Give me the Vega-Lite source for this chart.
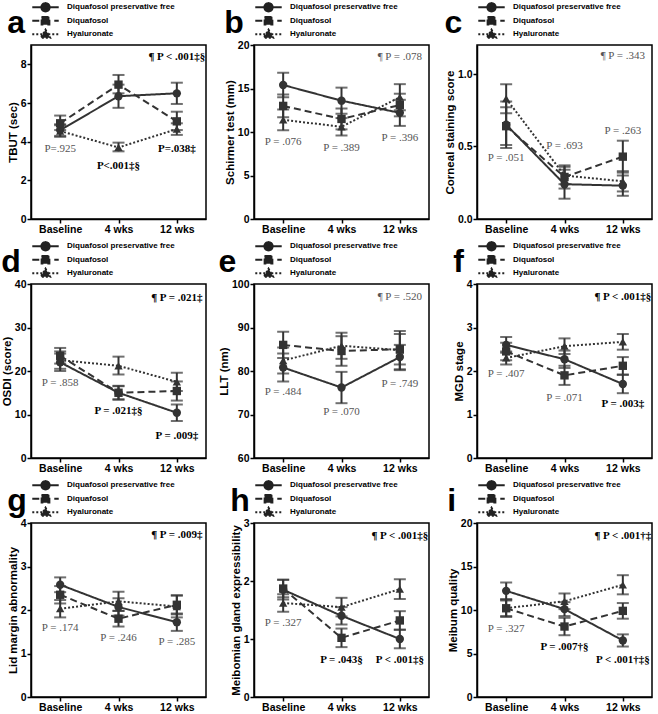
{
"$schema": "https://vega.github.io/schema/vega-lite/v6.json",
"padding": {"left": 0, "top": 0, "right": 0, "bottom": 0},
"columns": 3,
"bounds": "flush",
"spacing": {"row": 65, "column": 48},
"resolve": {"scale": {"x": "independent", "y": "independent", "strokeDash": "independent"}, "legend": {"strokeDash": "independent"}},
"config": {
  "view": {"stroke": "#000", "strokeWidth": 1.5},
  "axis": {"labelFont": "Liberation Sans", "labelFontWeight": "bold", "labelFontSize": 10.5, "labelColor": "#000", "titleFont": "Liberation Sans", "titleFontWeight": "bold", "titleFontSize": 11.5, "titleColor": "#000", "domainColor": "#000", "domainWidth": 1.5, "tickColor": "#000", "tickWidth": 1.5, "tickSize": 4, "labelPadding": 1, "titlePadding": 2, "grid": false},
  "legend": {"orient": "top", "direction": "vertical", "symbolSize": 700, "symbolStrokeWidth": 1.8, "symbolStrokeColor": "#222", "clipHeight": 12.5, "rowPadding": 0.5, "labelFont": "Liberation Sans", "labelFontWeight": "bold", "labelFontSize": 8, "labelColor": "#000", "labelOffset": 7, "offset": 4, "padding": 0},
  "title": {"font": "Liberation Sans", "fontSize": 32, "fontWeight": "bold", "anchor": "start", "frame": "bounds", "offset": 0, "baseline": "alphabetic", "dy": 43, "dx": 0, "color": "#000"}
},
"datasets": {
"pts": [
{"panel":"a","time":"Baseline","wk":0,"grp":"Diquafosol preservative free","m":4.6,"lo":4.3,"hi":4.9},
{"panel":"a","time":"4 wks","wk":4,"grp":"Diquafosol preservative free","m":6.35,"lo":5.75,"hi":6.95},
{"panel":"a","time":"12 wks","wk":12,"grp":"Diquafosol preservative free","m":6.5,"lo":5.95,"hi":7.05},
{"panel":"a","time":"Baseline","wk":0,"grp":"Diquafosol","m":4.95,"lo":4.6,"hi":5.35},
{"panel":"a","time":"4 wks","wk":4,"grp":"Diquafosol","m":6.95,"lo":6.5,"hi":7.45},
{"panel":"a","time":"12 wks","wk":12,"grp":"Diquafosol","m":5.05,"lo":4.6,"hi":5.55},
{"panel":"a","time":"Baseline","wk":0,"grp":"Hyaluronate","m":4.55,"lo":4.25,"hi":4.85},
{"panel":"a","time":"4 wks","wk":4,"grp":"Hyaluronate","m":3.7,"lo":3.5,"hi":3.95},
{"panel":"a","time":"12 wks","wk":12,"grp":"Hyaluronate","m":4.65,"lo":4.35,"hi":4.95},
{"panel":"b","time":"Baseline","wk":0,"grp":"Diquafosol preservative free","m":15.4,"lo":14.0,"hi":16.8},
{"panel":"b","time":"4 wks","wk":4,"grp":"Diquafosol preservative free","m":13.6,"lo":12.1,"hi":15.1},
{"panel":"b","time":"12 wks","wk":12,"grp":"Diquafosol preservative free","m":12.2,"lo":10.7,"hi":13.7},
{"panel":"b","time":"Baseline","wk":0,"grp":"Diquafosol","m":13.0,"lo":11.7,"hi":14.3},
{"panel":"b","time":"4 wks","wk":4,"grp":"Diquafosol","m":11.5,"lo":10.3,"hi":12.7},
{"panel":"b","time":"12 wks","wk":12,"grp":"Diquafosol","m":13.1,"lo":11.8,"hi":14.4},
{"panel":"b","time":"Baseline","wk":0,"grp":"Hyaluronate","m":11.4,"lo":10.2,"hi":12.6},
{"panel":"b","time":"4 wks","wk":4,"grp":"Hyaluronate","m":10.6,"lo":9.6,"hi":11.6},
{"panel":"b","time":"12 wks","wk":12,"grp":"Hyaluronate","m":14.0,"lo":12.5,"hi":15.5},
{"panel":"c","time":"Baseline","wk":0,"grp":"Diquafosol preservative free","m":0.65,"lo":0.49,"hi":0.81},
{"panel":"c","time":"4 wks","wk":4,"grp":"Diquafosol preservative free","m":0.24,"lo":0.14,"hi":0.34},
{"panel":"c","time":"12 wks","wk":12,"grp":"Diquafosol preservative free","m":0.23,"lo":0.16,"hi":0.30},
{"panel":"c","time":"Baseline","wk":0,"grp":"Diquafosol","m":0.64,"lo":0.51,"hi":0.77},
{"panel":"c","time":"4 wks","wk":4,"grp":"Diquafosol","m":0.29,"lo":0.21,"hi":0.37},
{"panel":"c","time":"12 wks","wk":12,"grp":"Diquafosol","m":0.43,"lo":0.32,"hi":0.54},
{"panel":"c","time":"Baseline","wk":0,"grp":"Hyaluronate","m":0.83,"lo":0.73,"hi":0.93},
{"panel":"c","time":"4 wks","wk":4,"grp":"Hyaluronate","m":0.30,"lo":0.24,"hi":0.36},
{"panel":"c","time":"12 wks","wk":12,"grp":"Hyaluronate","m":0.26,"lo":0.19,"hi":0.33},
{"panel":"d","time":"Baseline","wk":0,"grp":"Diquafosol preservative free","m":22.0,"lo":20.0,"hi":24.0},
{"panel":"d","time":"4 wks","wk":4,"grp":"Diquafosol preservative free","m":15.0,"lo":13.5,"hi":16.5},
{"panel":"d","time":"12 wks","wk":12,"grp":"Diquafosol preservative free","m":10.4,"lo":8.5,"hi":12.3},
{"panel":"d","time":"Baseline","wk":0,"grp":"Diquafosol","m":23.5,"lo":21.7,"hi":25.3},
{"panel":"d","time":"4 wks","wk":4,"grp":"Diquafosol","m":15.0,"lo":13.4,"hi":16.6},
{"panel":"d","time":"12 wks","wk":12,"grp":"Diquafosol","m":15.4,"lo":13.2,"hi":17.6},
{"panel":"d","time":"Baseline","wk":0,"grp":"Hyaluronate","m":22.5,"lo":20.5,"hi":24.5},
{"panel":"d","time":"4 wks","wk":4,"grp":"Hyaluronate","m":21.2,"lo":19.2,"hi":23.3},
{"panel":"d","time":"12 wks","wk":12,"grp":"Hyaluronate","m":17.5,"lo":15.4,"hi":19.6},
{"panel":"e","time":"Baseline","wk":0,"grp":"Diquafosol preservative free","m":80.8,"lo":77.6,"hi":84.0},
{"panel":"e","time":"4 wks","wk":4,"grp":"Diquafosol preservative free","m":76.2,"lo":72.6,"hi":79.8},
{"panel":"e","time":"12 wks","wk":12,"grp":"Diquafosol preservative free","m":83.2,"lo":80.4,"hi":86.0},
{"panel":"e","time":"Baseline","wk":0,"grp":"Diquafosol","m":86.0,"lo":83.0,"hi":89.0},
{"panel":"e","time":"4 wks","wk":4,"grp":"Diquafosol","m":84.6,"lo":81.2,"hi":88.0},
{"panel":"e","time":"12 wks","wk":12,"grp":"Diquafosol","m":85.0,"lo":81.5,"hi":88.5},
{"panel":"e","time":"Baseline","wk":0,"grp":"Hyaluronate","m":82.4,"lo":79.4,"hi":85.4},
{"panel":"e","time":"4 wks","wk":4,"grp":"Hyaluronate","m":85.8,"lo":82.8,"hi":88.8},
{"panel":"e","time":"12 wks","wk":12,"grp":"Hyaluronate","m":84.8,"lo":80.2,"hi":89.2},
{"panel":"f","time":"Baseline","wk":0,"grp":"Diquafosol preservative free","m":2.6,"lo":2.42,"hi":2.78},
{"panel":"f","time":"4 wks","wk":4,"grp":"Diquafosol preservative free","m":2.27,"lo":2.07,"hi":2.47},
{"panel":"f","time":"12 wks","wk":12,"grp":"Diquafosol preservative free","m":1.7,"lo":1.49,"hi":1.91},
{"panel":"f","time":"Baseline","wk":0,"grp":"Diquafosol","m":2.45,"lo":2.25,"hi":2.65},
{"panel":"f","time":"4 wks","wk":4,"grp":"Diquafosol","m":1.9,"lo":1.68,"hi":2.12},
{"panel":"f","time":"12 wks","wk":12,"grp":"Diquafosol","m":2.12,"lo":1.92,"hi":2.32},
{"panel":"f","time":"Baseline","wk":0,"grp":"Hyaluronate","m":2.3,"lo":2.15,"hi":2.45},
{"panel":"f","time":"4 wks","wk":4,"grp":"Hyaluronate","m":2.57,"lo":2.39,"hi":2.75},
{"panel":"f","time":"12 wks","wk":12,"grp":"Hyaluronate","m":2.67,"lo":2.49,"hi":2.85},
{"panel":"g","time":"Baseline","wk":0,"grp":"Diquafosol preservative free","m":2.58,"lo":2.41,"hi":2.75},
{"panel":"g","time":"4 wks","wk":4,"grp":"Diquafosol preservative free","m":2.07,"lo":1.87,"hi":2.27},
{"panel":"g","time":"12 wks","wk":12,"grp":"Diquafosol preservative free","m":1.72,"lo":1.52,"hi":1.92},
{"panel":"g","time":"Baseline","wk":0,"grp":"Diquafosol","m":2.35,"lo":2.15,"hi":2.55},
{"panel":"g","time":"4 wks","wk":4,"grp":"Diquafosol","m":1.8,"lo":1.62,"hi":1.98},
{"panel":"g","time":"12 wks","wk":12,"grp":"Diquafosol","m":2.12,"lo":1.9,"hi":2.34},
{"panel":"g","time":"Baseline","wk":0,"grp":"Hyaluronate","m":2.03,"lo":1.83,"hi":2.23},
{"panel":"g","time":"4 wks","wk":4,"grp":"Hyaluronate","m":2.2,"lo":1.98,"hi":2.42},
{"panel":"g","time":"12 wks","wk":12,"grp":"Hyaluronate","m":2.08,"lo":1.83,"hi":2.33},
{"panel":"h","time":"Baseline","wk":0,"grp":"Diquafosol preservative free","m":1.85,"lo":1.68,"hi":2.02},
{"panel":"h","time":"4 wks","wk":4,"grp":"Diquafosol preservative free","m":1.4,"lo":1.25,"hi":1.55},
{"panel":"h","time":"12 wks","wk":12,"grp":"Diquafosol preservative free","m":1.0,"lo":0.84,"hi":1.16},
{"panel":"h","time":"Baseline","wk":0,"grp":"Diquafosol","m":1.87,"lo":1.72,"hi":2.02},
{"panel":"h","time":"4 wks","wk":4,"grp":"Diquafosol","m":1.02,"lo":0.86,"hi":1.18},
{"panel":"h","time":"12 wks","wk":12,"grp":"Diquafosol","m":1.32,"lo":1.16,"hi":1.48},
{"panel":"h","time":"Baseline","wk":0,"grp":"Hyaluronate","m":1.62,"lo":1.47,"hi":1.77},
{"panel":"h","time":"4 wks","wk":4,"grp":"Hyaluronate","m":1.55,"lo":1.39,"hi":1.71},
{"panel":"h","time":"12 wks","wk":12,"grp":"Hyaluronate","m":1.86,"lo":1.69,"hi":2.03},
{"panel":"i","time":"Baseline","wk":0,"grp":"Diquafosol preservative free","m":12.2,"lo":11.25,"hi":13.15},
{"panel":"i","time":"4 wks","wk":4,"grp":"Diquafosol preservative free","m":10.1,"lo":9.3,"hi":10.9},
{"panel":"i","time":"12 wks","wk":12,"grp":"Diquafosol preservative free","m":6.5,"lo":5.8,"hi":7.2},
{"panel":"i","time":"Baseline","wk":0,"grp":"Diquafosol","m":10.2,"lo":9.2,"hi":11.2},
{"panel":"i","time":"4 wks","wk":4,"grp":"Diquafosol","m":8.1,"lo":7.1,"hi":9.1},
{"panel":"i","time":"12 wks","wk":12,"grp":"Diquafosol","m":9.9,"lo":9.0,"hi":10.8},
{"panel":"i","time":"Baseline","wk":0,"grp":"Hyaluronate","m":10.2,"lo":9.3,"hi":11.1},
{"panel":"i","time":"4 wks","wk":4,"grp":"Hyaluronate","m":11.0,"lo":10.1,"hi":11.9},
{"panel":"i","time":"12 wks","wk":12,"grp":"Hyaluronate","m":12.9,"lo":11.8,"hi":14.0}
],
"ann": [
{"panel":"a","time":"12 wks","m":8.4,"label":"¶ P < .001‡§","sig":true},
{"panel":"a","time":"Baseline","m":3.6,"label":"P=.925","sig":false},
{"panel":"a","time":"4 wks","m":2.75,"label":"P<.001‡§","sig":true},
{"panel":"a","time":"12 wks","m":3.6,"label":"P=.038‡","sig":true},
{"panel":"b","time":"12 wks","m":18.6,"label":"¶ P = .078","sig":false},
{"panel":"b","time":"Baseline","m":8.9,"label":"P = .076","sig":false},
{"panel":"b","time":"4 wks","m":8.2,"label":"P = .389","sig":false},
{"panel":"b","time":"12 wks","m":9.3,"label":"P = .396","sig":false},
{"panel":"c","time":"12 wks","m":1.125,"label":"¶ P = .343","sig":false},
{"panel":"c","time":"Baseline","m":0.42,"label":"P = .051","sig":false},
{"panel":"c","time":"4 wks","m":0.505,"label":"P = .693","sig":false},
{"panel":"c","time":"12 wks","m":0.61,"label":"P = .263","sig":false},
{"panel":"d","time":"12 wks","m":36.8,"label":"¶ P = .021‡","sig":true},
{"panel":"d","time":"Baseline","m":17.2,"label":"P = .858","sig":false},
{"panel":"d","time":"4 wks","m":10.7,"label":"P = .021‡§","sig":true},
{"panel":"d","time":"12 wks","m":5.1,"label":"P = .009‡","sig":true},
{"panel":"e","time":"12 wks","m":97.1,"label":"¶ P = .520","sig":false},
{"panel":"e","time":"Baseline","m":75.2,"label":"P = .484","sig":false},
{"panel":"e","time":"4 wks","m":70.5,"label":"P = .070","sig":false},
{"panel":"e","time":"12 wks","m":77.0,"label":"P = .749","sig":false},
{"panel":"f","time":"12 wks","m":3.7,"label":"¶ P < .001‡§","sig":true},
{"panel":"f","time":"Baseline","m":1.92,"label":"P = .407","sig":false},
{"panel":"f","time":"4 wks","m":1.37,"label":"P = .071","sig":false},
{"panel":"f","time":"12 wks","m":1.23,"label":"P = .003‡","sig":true},
{"panel":"g","time":"12 wks","m":3.72,"label":"¶ P = .009‡","sig":true},
{"panel":"g","time":"Baseline","m":1.58,"label":"P = .174","sig":false},
{"panel":"g","time":"4 wks","m":1.36,"label":"P = .246","sig":false},
{"panel":"g","time":"12 wks","m":1.27,"label":"P = .285","sig":false},
{"panel":"h","time":"12 wks","m":2.77,"label":"¶ P < .001‡§","sig":true},
{"panel":"h","time":"Baseline","m":1.27,"label":"P = .327","sig":false},
{"panel":"h","time":"4 wks","m":0.64,"label":"P = .043§","sig":true},
{"panel":"h","time":"12 wks","m":0.64,"label":"P < .001‡§","sig":true},
{"panel":"i","time":"12 wks","m":18.5,"label":"¶ P < .001†‡","sig":true},
{"panel":"i","time":"Baseline","m":7.8,"label":"P = .327","sig":false},
{"panel":"i","time":"4 wks","m":5.8,"label":"P = .007†§","sig":true},
{"panel":"i","time":"12 wks","m":4.3,"label":"P < .001†‡§","sig":true}
]
},
"concat": [
{"title":"a","width":175,"height":174,
 "encoding":{"x":{"field":"time","type":"ordinal","title":null,"scale":{"type":"point","domain":["Baseline","4 wks","12 wks"],"padding":0.5},"axis":{"labelAngle":0}},
  "y":{"field":"m","type":"quantitative","title":"TBUT (sec)","scale":{"domain":[0,9],"nice":false,"zero":false},"axis":{"values":[0,2,4,6,8]}}},
 "layer":[
  {"data":{"name":"pts"},"transform":[{"filter":"datum.panel==='a'"}],"mark":{"type":"line","color":"#333","strokeWidth":2},
   "encoding":{"order":{"field":"wk","type":"quantitative"},"strokeDash":{"field":"grp","type":"nominal","scale":{"domain":["Diquafosol preservative free","Diquafosol","Hyaluronate"],"range":[[1,0],[7,4],[2,2]]},
    "legend":{"title":null,"encode":{"symbols":{"update":{"shape":{"signal":"datum.value==='Diquafosol' ? 'M-1,0L1,0M-0.3,-0.3L0.3,-0.3L0.3,0.3L-0.3,0.3Z' : datum.value==='Hyaluronate' ? 'M-1,0L1,0M0,-0.36L0.36,0.27L-0.36,0.27Z' : 'M-1,0L1,0M-0.32,0A0.32,0.32 0 1,0 0.32,0A0.32,0.32 0 1,0 -0.32,0Z'"},"fill":{"value":"#222"},"stroke":{"value":"#222"},"strokeWidth":{"value":1.8},"opacity":{"value":1}}}}}}}},
  {"data":{"name":"pts"},"transform":[{"filter":"datum.panel==='a'"}],"mark":{"type":"errorbar","ticks":true,"size":12,"thickness":2,"color":"#333"},
   "encoding":{"y":{"field":"lo","type":"quantitative","title":"TBUT (sec)","scale":{"domain":[0,9],"nice":false,"zero":false}},"y2":{"field":"hi"}}},
  {"data":{"name":"pts"},"transform":[{"filter":"datum.panel==='a' && datum.grp==='Diquafosol preservative free'"}],"mark":{"type":"point","shape":"circle","filled":true,"size":70,"color":"#333","opacity":1}},
  {"data":{"name":"pts"},"transform":[{"filter":"datum.panel==='a' && datum.grp==='Diquafosol'"}],"mark":{"type":"point","shape":"square","filled":true,"size":70,"color":"#333","opacity":1}},
  {"data":{"name":"pts"},"transform":[{"filter":"datum.panel==='a' && datum.grp==='Hyaluronate'"}],"mark":{"type":"point","shape":"triangle-up","filled":true,"size":70,"color":"#333","opacity":1}},
  {"data":{"name":"ann"},"transform":[{"filter":"datum.panel==='a' && datum.sig"}],"mark":{"type":"text","font":"Liberation Serif","fontSize":11,"fontWeight":"bold","color":"#000"},"encoding":{"text":{"field":"label"}}},
  {"data":{"name":"ann"},"transform":[{"filter":"datum.panel==='a' && !datum.sig"}],"mark":{"type":"text","font":"Liberation Serif","fontSize":11,"color":"#555"},"encoding":{"text":{"field":"label"}}}
 ]},
{"title":"b","width":175,"height":174,
 "encoding":{"x":{"field":"time","type":"ordinal","title":null,"scale":{"type":"point","domain":["Baseline","4 wks","12 wks"],"padding":0.5},"axis":{"labelAngle":0}},
  "y":{"field":"m","type":"quantitative","title":"Schirmer test (mm)","scale":{"domain":[0,20],"nice":false,"zero":false},"axis":{"values":[0,5,10,15,20]}}},
 "layer":[
  {"data":{"name":"pts"},"transform":[{"filter":"datum.panel==='b'"}],"mark":{"type":"line","color":"#333","strokeWidth":2},
   "encoding":{"order":{"field":"wk","type":"quantitative"},"strokeDash":{"field":"grp","type":"nominal","scale":{"domain":["Diquafosol preservative free","Diquafosol","Hyaluronate"],"range":[[1,0],[7,4],[2,2]]},
    "legend":{"title":null,"encode":{"symbols":{"update":{"shape":{"signal":"datum.value==='Diquafosol' ? 'M-1,0L1,0M-0.3,-0.3L0.3,-0.3L0.3,0.3L-0.3,0.3Z' : datum.value==='Hyaluronate' ? 'M-1,0L1,0M0,-0.36L0.36,0.27L-0.36,0.27Z' : 'M-1,0L1,0M-0.32,0A0.32,0.32 0 1,0 0.32,0A0.32,0.32 0 1,0 -0.32,0Z'"},"fill":{"value":"#222"},"stroke":{"value":"#222"},"strokeWidth":{"value":1.8},"opacity":{"value":1}}}}}}}},
  {"data":{"name":"pts"},"transform":[{"filter":"datum.panel==='b'"}],"mark":{"type":"errorbar","ticks":true,"size":12,"thickness":2,"color":"#333"},
   "encoding":{"y":{"field":"lo","type":"quantitative","title":"Schirmer test (mm)","scale":{"domain":[0,20],"nice":false,"zero":false}},"y2":{"field":"hi"}}},
  {"data":{"name":"pts"},"transform":[{"filter":"datum.panel==='b' && datum.grp==='Diquafosol preservative free'"}],"mark":{"type":"point","shape":"circle","filled":true,"size":70,"color":"#333","opacity":1}},
  {"data":{"name":"pts"},"transform":[{"filter":"datum.panel==='b' && datum.grp==='Diquafosol'"}],"mark":{"type":"point","shape":"square","filled":true,"size":70,"color":"#333","opacity":1}},
  {"data":{"name":"pts"},"transform":[{"filter":"datum.panel==='b' && datum.grp==='Hyaluronate'"}],"mark":{"type":"point","shape":"triangle-up","filled":true,"size":70,"color":"#333","opacity":1}},
  {"data":{"name":"ann"},"transform":[{"filter":"datum.panel==='b' && datum.sig"}],"mark":{"type":"text","font":"Liberation Serif","fontSize":11,"fontWeight":"bold","color":"#000"},"encoding":{"text":{"field":"label"}}},
  {"data":{"name":"ann"},"transform":[{"filter":"datum.panel==='b' && !datum.sig"}],"mark":{"type":"text","font":"Liberation Serif","fontSize":11,"color":"#555"},"encoding":{"text":{"field":"label"}}}
 ]},
{"title":"c","width":175,"height":174,
 "encoding":{"x":{"field":"time","type":"ordinal","title":null,"scale":{"type":"point","domain":["Baseline","4 wks","12 wks"],"padding":0.5},"axis":{"labelAngle":0}},
  "y":{"field":"m","type":"quantitative","title":"Corneal staining score","scale":{"domain":[0,1.2],"nice":false,"zero":false},"axis":{"values":[0,0.5,1],"format":".1f"}}},
 "layer":[
  {"data":{"name":"pts"},"transform":[{"filter":"datum.panel==='c'"}],"mark":{"type":"line","color":"#333","strokeWidth":2},
   "encoding":{"order":{"field":"wk","type":"quantitative"},"strokeDash":{"field":"grp","type":"nominal","scale":{"domain":["Diquafosol preservative free","Diquafosol","Hyaluronate"],"range":[[1,0],[7,4],[2,2]]},
    "legend":{"title":null,"encode":{"symbols":{"update":{"shape":{"signal":"datum.value==='Diquafosol' ? 'M-1,0L1,0M-0.3,-0.3L0.3,-0.3L0.3,0.3L-0.3,0.3Z' : datum.value==='Hyaluronate' ? 'M-1,0L1,0M0,-0.36L0.36,0.27L-0.36,0.27Z' : 'M-1,0L1,0M-0.32,0A0.32,0.32 0 1,0 0.32,0A0.32,0.32 0 1,0 -0.32,0Z'"},"fill":{"value":"#222"},"stroke":{"value":"#222"},"strokeWidth":{"value":1.8},"opacity":{"value":1}}}}}}}},
  {"data":{"name":"pts"},"transform":[{"filter":"datum.panel==='c'"}],"mark":{"type":"errorbar","ticks":true,"size":12,"thickness":2,"color":"#333"},
   "encoding":{"y":{"field":"lo","type":"quantitative","title":"Corneal staining score","scale":{"domain":[0,1.2],"nice":false,"zero":false}},"y2":{"field":"hi"}}},
  {"data":{"name":"pts"},"transform":[{"filter":"datum.panel==='c' && datum.grp==='Diquafosol preservative free'"}],"mark":{"type":"point","shape":"circle","filled":true,"size":70,"color":"#333","opacity":1}},
  {"data":{"name":"pts"},"transform":[{"filter":"datum.panel==='c' && datum.grp==='Diquafosol'"}],"mark":{"type":"point","shape":"square","filled":true,"size":70,"color":"#333","opacity":1}},
  {"data":{"name":"pts"},"transform":[{"filter":"datum.panel==='c' && datum.grp==='Hyaluronate'"}],"mark":{"type":"point","shape":"triangle-up","filled":true,"size":70,"color":"#333","opacity":1}},
  {"data":{"name":"ann"},"transform":[{"filter":"datum.panel==='c' && datum.sig"}],"mark":{"type":"text","font":"Liberation Serif","fontSize":11,"fontWeight":"bold","color":"#000"},"encoding":{"text":{"field":"label"}}},
  {"data":{"name":"ann"},"transform":[{"filter":"datum.panel==='c' && !datum.sig"}],"mark":{"type":"text","font":"Liberation Serif","fontSize":11,"color":"#555"},"encoding":{"text":{"field":"label"}}}
 ]},
{"title":"d","width":175,"height":174,
 "encoding":{"x":{"field":"time","type":"ordinal","title":null,"scale":{"type":"point","domain":["Baseline","4 wks","12 wks"],"padding":0.5},"axis":{"labelAngle":0}},
  "y":{"field":"m","type":"quantitative","title":"OSDI (score)","scale":{"domain":[0,40],"nice":false,"zero":false},"axis":{"values":[0,10,20,30,40]}}},
 "layer":[
  {"data":{"name":"pts"},"transform":[{"filter":"datum.panel==='d'"}],"mark":{"type":"line","color":"#333","strokeWidth":2},
   "encoding":{"order":{"field":"wk","type":"quantitative"},"strokeDash":{"field":"grp","type":"nominal","scale":{"domain":["Diquafosol preservative free","Diquafosol","Hyaluronate"],"range":[[1,0],[7,4],[2,2]]},
    "legend":{"title":null,"encode":{"symbols":{"update":{"shape":{"signal":"datum.value==='Diquafosol' ? 'M-1,0L1,0M-0.3,-0.3L0.3,-0.3L0.3,0.3L-0.3,0.3Z' : datum.value==='Hyaluronate' ? 'M-1,0L1,0M0,-0.36L0.36,0.27L-0.36,0.27Z' : 'M-1,0L1,0M-0.32,0A0.32,0.32 0 1,0 0.32,0A0.32,0.32 0 1,0 -0.32,0Z'"},"fill":{"value":"#222"},"stroke":{"value":"#222"},"strokeWidth":{"value":1.8},"opacity":{"value":1}}}}}}}},
  {"data":{"name":"pts"},"transform":[{"filter":"datum.panel==='d'"}],"mark":{"type":"errorbar","ticks":true,"size":12,"thickness":2,"color":"#333"},
   "encoding":{"y":{"field":"lo","type":"quantitative","title":"OSDI (score)","scale":{"domain":[0,40],"nice":false,"zero":false}},"y2":{"field":"hi"}}},
  {"data":{"name":"pts"},"transform":[{"filter":"datum.panel==='d' && datum.grp==='Diquafosol preservative free'"}],"mark":{"type":"point","shape":"circle","filled":true,"size":70,"color":"#333","opacity":1}},
  {"data":{"name":"pts"},"transform":[{"filter":"datum.panel==='d' && datum.grp==='Diquafosol'"}],"mark":{"type":"point","shape":"square","filled":true,"size":70,"color":"#333","opacity":1}},
  {"data":{"name":"pts"},"transform":[{"filter":"datum.panel==='d' && datum.grp==='Hyaluronate'"}],"mark":{"type":"point","shape":"triangle-up","filled":true,"size":70,"color":"#333","opacity":1}},
  {"data":{"name":"ann"},"transform":[{"filter":"datum.panel==='d' && datum.sig"}],"mark":{"type":"text","font":"Liberation Serif","fontSize":11,"fontWeight":"bold","color":"#000"},"encoding":{"text":{"field":"label"}}},
  {"data":{"name":"ann"},"transform":[{"filter":"datum.panel==='d' && !datum.sig"}],"mark":{"type":"text","font":"Liberation Serif","fontSize":11,"color":"#555"},"encoding":{"text":{"field":"label"}}}
 ]},
{"title":"e","width":175,"height":174,
 "encoding":{"x":{"field":"time","type":"ordinal","title":null,"scale":{"type":"point","domain":["Baseline","4 wks","12 wks"],"padding":0.5},"axis":{"labelAngle":0}},
  "y":{"field":"m","type":"quantitative","title":"LLT (nm)","scale":{"domain":[60,100],"nice":false,"zero":false},"axis":{"values":[60,70,80,90,100]}}},
 "layer":[
  {"data":{"name":"pts"},"transform":[{"filter":"datum.panel==='e'"}],"mark":{"type":"line","color":"#333","strokeWidth":2},
   "encoding":{"order":{"field":"wk","type":"quantitative"},"strokeDash":{"field":"grp","type":"nominal","scale":{"domain":["Diquafosol preservative free","Diquafosol","Hyaluronate"],"range":[[1,0],[7,4],[2,2]]},
    "legend":{"title":null,"encode":{"symbols":{"update":{"shape":{"signal":"datum.value==='Diquafosol' ? 'M-1,0L1,0M-0.3,-0.3L0.3,-0.3L0.3,0.3L-0.3,0.3Z' : datum.value==='Hyaluronate' ? 'M-1,0L1,0M0,-0.36L0.36,0.27L-0.36,0.27Z' : 'M-1,0L1,0M-0.32,0A0.32,0.32 0 1,0 0.32,0A0.32,0.32 0 1,0 -0.32,0Z'"},"fill":{"value":"#222"},"stroke":{"value":"#222"},"strokeWidth":{"value":1.8},"opacity":{"value":1}}}}}}}},
  {"data":{"name":"pts"},"transform":[{"filter":"datum.panel==='e'"}],"mark":{"type":"errorbar","ticks":true,"size":12,"thickness":2,"color":"#333"},
   "encoding":{"y":{"field":"lo","type":"quantitative","title":"LLT (nm)","scale":{"domain":[60,100],"nice":false,"zero":false}},"y2":{"field":"hi"}}},
  {"data":{"name":"pts"},"transform":[{"filter":"datum.panel==='e' && datum.grp==='Diquafosol preservative free'"}],"mark":{"type":"point","shape":"circle","filled":true,"size":70,"color":"#333","opacity":1}},
  {"data":{"name":"pts"},"transform":[{"filter":"datum.panel==='e' && datum.grp==='Diquafosol'"}],"mark":{"type":"point","shape":"square","filled":true,"size":70,"color":"#333","opacity":1}},
  {"data":{"name":"pts"},"transform":[{"filter":"datum.panel==='e' && datum.grp==='Hyaluronate'"}],"mark":{"type":"point","shape":"triangle-up","filled":true,"size":70,"color":"#333","opacity":1}},
  {"data":{"name":"ann"},"transform":[{"filter":"datum.panel==='e' && datum.sig"}],"mark":{"type":"text","font":"Liberation Serif","fontSize":11,"fontWeight":"bold","color":"#000"},"encoding":{"text":{"field":"label"}}},
  {"data":{"name":"ann"},"transform":[{"filter":"datum.panel==='e' && !datum.sig"}],"mark":{"type":"text","font":"Liberation Serif","fontSize":11,"color":"#555"},"encoding":{"text":{"field":"label"}}}
 ]},
{"title":"f","width":175,"height":174,
 "encoding":{"x":{"field":"time","type":"ordinal","title":null,"scale":{"type":"point","domain":["Baseline","4 wks","12 wks"],"padding":0.5},"axis":{"labelAngle":0}},
  "y":{"field":"m","type":"quantitative","title":"MGD stage","scale":{"domain":[0,4],"nice":false,"zero":false},"axis":{"values":[0,1,2,3,4]}}},
 "layer":[
  {"data":{"name":"pts"},"transform":[{"filter":"datum.panel==='f'"}],"mark":{"type":"line","color":"#333","strokeWidth":2},
   "encoding":{"order":{"field":"wk","type":"quantitative"},"strokeDash":{"field":"grp","type":"nominal","scale":{"domain":["Diquafosol preservative free","Diquafosol","Hyaluronate"],"range":[[1,0],[7,4],[2,2]]},
    "legend":{"title":null,"encode":{"symbols":{"update":{"shape":{"signal":"datum.value==='Diquafosol' ? 'M-1,0L1,0M-0.3,-0.3L0.3,-0.3L0.3,0.3L-0.3,0.3Z' : datum.value==='Hyaluronate' ? 'M-1,0L1,0M0,-0.36L0.36,0.27L-0.36,0.27Z' : 'M-1,0L1,0M-0.32,0A0.32,0.32 0 1,0 0.32,0A0.32,0.32 0 1,0 -0.32,0Z'"},"fill":{"value":"#222"},"stroke":{"value":"#222"},"strokeWidth":{"value":1.8},"opacity":{"value":1}}}}}}}},
  {"data":{"name":"pts"},"transform":[{"filter":"datum.panel==='f'"}],"mark":{"type":"errorbar","ticks":true,"size":12,"thickness":2,"color":"#333"},
   "encoding":{"y":{"field":"lo","type":"quantitative","title":"MGD stage","scale":{"domain":[0,4],"nice":false,"zero":false}},"y2":{"field":"hi"}}},
  {"data":{"name":"pts"},"transform":[{"filter":"datum.panel==='f' && datum.grp==='Diquafosol preservative free'"}],"mark":{"type":"point","shape":"circle","filled":true,"size":70,"color":"#333","opacity":1}},
  {"data":{"name":"pts"},"transform":[{"filter":"datum.panel==='f' && datum.grp==='Diquafosol'"}],"mark":{"type":"point","shape":"square","filled":true,"size":70,"color":"#333","opacity":1}},
  {"data":{"name":"pts"},"transform":[{"filter":"datum.panel==='f' && datum.grp==='Hyaluronate'"}],"mark":{"type":"point","shape":"triangle-up","filled":true,"size":70,"color":"#333","opacity":1}},
  {"data":{"name":"ann"},"transform":[{"filter":"datum.panel==='f' && datum.sig"}],"mark":{"type":"text","font":"Liberation Serif","fontSize":11,"fontWeight":"bold","color":"#000"},"encoding":{"text":{"field":"label"}}},
  {"data":{"name":"ann"},"transform":[{"filter":"datum.panel==='f' && !datum.sig"}],"mark":{"type":"text","font":"Liberation Serif","fontSize":11,"color":"#555"},"encoding":{"text":{"field":"label"}}}
 ]},
{"title":"g","width":175,"height":174,
 "encoding":{"x":{"field":"time","type":"ordinal","title":null,"scale":{"type":"point","domain":["Baseline","4 wks","12 wks"],"padding":0.5},"axis":{"labelAngle":0}},
  "y":{"field":"m","type":"quantitative","title":"Lid margin abnormality","scale":{"domain":[0,4],"nice":false,"zero":false},"axis":{"values":[0,1,2,3,4]}}},
 "layer":[
  {"data":{"name":"pts"},"transform":[{"filter":"datum.panel==='g'"}],"mark":{"type":"line","color":"#333","strokeWidth":2},
   "encoding":{"order":{"field":"wk","type":"quantitative"},"strokeDash":{"field":"grp","type":"nominal","scale":{"domain":["Diquafosol preservative free","Diquafosol","Hyaluronate"],"range":[[1,0],[7,4],[2,2]]},
    "legend":{"title":null,"encode":{"symbols":{"update":{"shape":{"signal":"datum.value==='Diquafosol' ? 'M-1,0L1,0M-0.3,-0.3L0.3,-0.3L0.3,0.3L-0.3,0.3Z' : datum.value==='Hyaluronate' ? 'M-1,0L1,0M0,-0.36L0.36,0.27L-0.36,0.27Z' : 'M-1,0L1,0M-0.32,0A0.32,0.32 0 1,0 0.32,0A0.32,0.32 0 1,0 -0.32,0Z'"},"fill":{"value":"#222"},"stroke":{"value":"#222"},"strokeWidth":{"value":1.8},"opacity":{"value":1}}}}}}}},
  {"data":{"name":"pts"},"transform":[{"filter":"datum.panel==='g'"}],"mark":{"type":"errorbar","ticks":true,"size":12,"thickness":2,"color":"#333"},
   "encoding":{"y":{"field":"lo","type":"quantitative","title":"Lid margin abnormality","scale":{"domain":[0,4],"nice":false,"zero":false}},"y2":{"field":"hi"}}},
  {"data":{"name":"pts"},"transform":[{"filter":"datum.panel==='g' && datum.grp==='Diquafosol preservative free'"}],"mark":{"type":"point","shape":"circle","filled":true,"size":70,"color":"#333","opacity":1}},
  {"data":{"name":"pts"},"transform":[{"filter":"datum.panel==='g' && datum.grp==='Diquafosol'"}],"mark":{"type":"point","shape":"square","filled":true,"size":70,"color":"#333","opacity":1}},
  {"data":{"name":"pts"},"transform":[{"filter":"datum.panel==='g' && datum.grp==='Hyaluronate'"}],"mark":{"type":"point","shape":"triangle-up","filled":true,"size":70,"color":"#333","opacity":1}},
  {"data":{"name":"ann"},"transform":[{"filter":"datum.panel==='g' && datum.sig"}],"mark":{"type":"text","font":"Liberation Serif","fontSize":11,"fontWeight":"bold","color":"#000"},"encoding":{"text":{"field":"label"}}},
  {"data":{"name":"ann"},"transform":[{"filter":"datum.panel==='g' && !datum.sig"}],"mark":{"type":"text","font":"Liberation Serif","fontSize":11,"color":"#555"},"encoding":{"text":{"field":"label"}}}
 ]},
{"title":"h","width":175,"height":174,
 "encoding":{"x":{"field":"time","type":"ordinal","title":null,"scale":{"type":"point","domain":["Baseline","4 wks","12 wks"],"padding":0.5},"axis":{"labelAngle":0}},
  "y":{"field":"m","type":"quantitative","title":"Meibomian gland expressibility","scale":{"domain":[0,3],"nice":false,"zero":false},"axis":{"values":[0,1,2,3]}}},
 "layer":[
  {"data":{"name":"pts"},"transform":[{"filter":"datum.panel==='h'"}],"mark":{"type":"line","color":"#333","strokeWidth":2},
   "encoding":{"order":{"field":"wk","type":"quantitative"},"strokeDash":{"field":"grp","type":"nominal","scale":{"domain":["Diquafosol preservative free","Diquafosol","Hyaluronate"],"range":[[1,0],[7,4],[2,2]]},
    "legend":{"title":null,"encode":{"symbols":{"update":{"shape":{"signal":"datum.value==='Diquafosol' ? 'M-1,0L1,0M-0.3,-0.3L0.3,-0.3L0.3,0.3L-0.3,0.3Z' : datum.value==='Hyaluronate' ? 'M-1,0L1,0M0,-0.36L0.36,0.27L-0.36,0.27Z' : 'M-1,0L1,0M-0.32,0A0.32,0.32 0 1,0 0.32,0A0.32,0.32 0 1,0 -0.32,0Z'"},"fill":{"value":"#222"},"stroke":{"value":"#222"},"strokeWidth":{"value":1.8},"opacity":{"value":1}}}}}}}},
  {"data":{"name":"pts"},"transform":[{"filter":"datum.panel==='h'"}],"mark":{"type":"errorbar","ticks":true,"size":12,"thickness":2,"color":"#333"},
   "encoding":{"y":{"field":"lo","type":"quantitative","title":"Meibomian gland expressibility","scale":{"domain":[0,3],"nice":false,"zero":false}},"y2":{"field":"hi"}}},
  {"data":{"name":"pts"},"transform":[{"filter":"datum.panel==='h' && datum.grp==='Diquafosol preservative free'"}],"mark":{"type":"point","shape":"circle","filled":true,"size":70,"color":"#333","opacity":1}},
  {"data":{"name":"pts"},"transform":[{"filter":"datum.panel==='h' && datum.grp==='Diquafosol'"}],"mark":{"type":"point","shape":"square","filled":true,"size":70,"color":"#333","opacity":1}},
  {"data":{"name":"pts"},"transform":[{"filter":"datum.panel==='h' && datum.grp==='Hyaluronate'"}],"mark":{"type":"point","shape":"triangle-up","filled":true,"size":70,"color":"#333","opacity":1}},
  {"data":{"name":"ann"},"transform":[{"filter":"datum.panel==='h' && datum.sig"}],"mark":{"type":"text","font":"Liberation Serif","fontSize":11,"fontWeight":"bold","color":"#000"},"encoding":{"text":{"field":"label"}}},
  {"data":{"name":"ann"},"transform":[{"filter":"datum.panel==='h' && !datum.sig"}],"mark":{"type":"text","font":"Liberation Serif","fontSize":11,"color":"#555"},"encoding":{"text":{"field":"label"}}}
 ]},
{"title":"i","width":175,"height":174,
 "encoding":{"x":{"field":"time","type":"ordinal","title":null,"scale":{"type":"point","domain":["Baseline","4 wks","12 wks"],"padding":0.5},"axis":{"labelAngle":0}},
  "y":{"field":"m","type":"quantitative","title":"Meibum quality","scale":{"domain":[0,20],"nice":false,"zero":false},"axis":{"values":[0,5,10,15,20]}}},
 "layer":[
  {"data":{"name":"pts"},"transform":[{"filter":"datum.panel==='i'"}],"mark":{"type":"line","color":"#333","strokeWidth":2},
   "encoding":{"order":{"field":"wk","type":"quantitative"},"strokeDash":{"field":"grp","type":"nominal","scale":{"domain":["Diquafosol preservative free","Diquafosol","Hyaluronate"],"range":[[1,0],[7,4],[2,2]]},
    "legend":{"title":null,"encode":{"symbols":{"update":{"shape":{"signal":"datum.value==='Diquafosol' ? 'M-1,0L1,0M-0.3,-0.3L0.3,-0.3L0.3,0.3L-0.3,0.3Z' : datum.value==='Hyaluronate' ? 'M-1,0L1,0M0,-0.36L0.36,0.27L-0.36,0.27Z' : 'M-1,0L1,0M-0.32,0A0.32,0.32 0 1,0 0.32,0A0.32,0.32 0 1,0 -0.32,0Z'"},"fill":{"value":"#222"},"stroke":{"value":"#222"},"strokeWidth":{"value":1.8},"opacity":{"value":1}}}}}}}},
  {"data":{"name":"pts"},"transform":[{"filter":"datum.panel==='i'"}],"mark":{"type":"errorbar","ticks":true,"size":12,"thickness":2,"color":"#333"},
   "encoding":{"y":{"field":"lo","type":"quantitative","title":"Meibum quality","scale":{"domain":[0,20],"nice":false,"zero":false}},"y2":{"field":"hi"}}},
  {"data":{"name":"pts"},"transform":[{"filter":"datum.panel==='i' && datum.grp==='Diquafosol preservative free'"}],"mark":{"type":"point","shape":"circle","filled":true,"size":70,"color":"#333","opacity":1}},
  {"data":{"name":"pts"},"transform":[{"filter":"datum.panel==='i' && datum.grp==='Diquafosol'"}],"mark":{"type":"point","shape":"square","filled":true,"size":70,"color":"#333","opacity":1}},
  {"data":{"name":"pts"},"transform":[{"filter":"datum.panel==='i' && datum.grp==='Hyaluronate'"}],"mark":{"type":"point","shape":"triangle-up","filled":true,"size":70,"color":"#333","opacity":1}},
  {"data":{"name":"ann"},"transform":[{"filter":"datum.panel==='i' && datum.sig"}],"mark":{"type":"text","font":"Liberation Serif","fontSize":11,"fontWeight":"bold","color":"#000"},"encoding":{"text":{"field":"label"}}},
  {"data":{"name":"ann"},"transform":[{"filter":"datum.panel==='i' && !datum.sig"}],"mark":{"type":"text","font":"Liberation Serif","fontSize":11,"color":"#555"},"encoding":{"text":{"field":"label"}}}
 ]}
]
}
